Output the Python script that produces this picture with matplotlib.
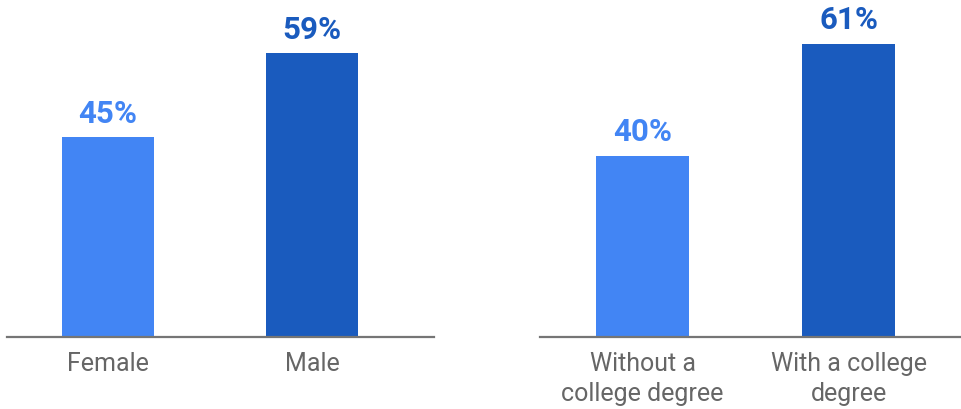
import matplotlib.pyplot as plt

gender_labels = ['Female', 'Male']
gender_values = [45, 59]
degree_labels = ['Without a\ncollege degree', 'With a college\ndegree']
degree_values = [40, 61]

light_blue = '#4285F4'
dark_blue = '#1A5BBE'
colors = [light_blue, dark_blue]

plt.rcParams['font.family'] = ['Roboto', 'DejaVu Sans']

fig = plt.figure(figsize=(9.61, 4.09), dpi=100)

# panel geometry in pixels (left, right), baseline at y=337
panels = [
    (gender_labels, gender_values, 7, 434, 11.75, 6.0),
    (degree_labels, degree_values, 540, 961, 6.0, 5.333),
]

for labels, values, x0, x1, ybot, px_per in panels:
    ax = fig.add_axes([x0 / 961, 72 / 409, (x1 - x0) / 961, 337 / 409])
    x = range(len(values))
    ax.bar(x, values, width=0.45, color=colors, zorder=2)
    ax.set_ylim(ybot, ybot + 337 / px_per)
    if x0 < 100:
        ax.set_xlim(-0.495, 1.598)
    else:
        ax.set_xlim(-0.498, 1.546)
    for xi, v, c in zip(x, values, colors):
        ax.annotate(f'{v}%', (xi, v), xytext=(0, 6), textcoords='offset points',
                    ha='center', va='bottom', fontsize=22.5, fontweight='bold', color=c)
    ax.set_xticks(list(x))
    ax.set_xticklabels(labels, fontsize=18, color='#666666', linespacing=1.3)
    ax.tick_params(axis='x', length=0, pad=11)
    ax.set_yticks([])
    for s in ['top', 'left', 'right']:
        ax.spines[s].set_visible(False)
    ax.spines['bottom'].set_color('#757575')
    ax.spines['bottom'].set_linewidth(1.6)
    ax.spines['bottom'].set_zorder(3)

plt.savefig('out.png', dpi=100)
